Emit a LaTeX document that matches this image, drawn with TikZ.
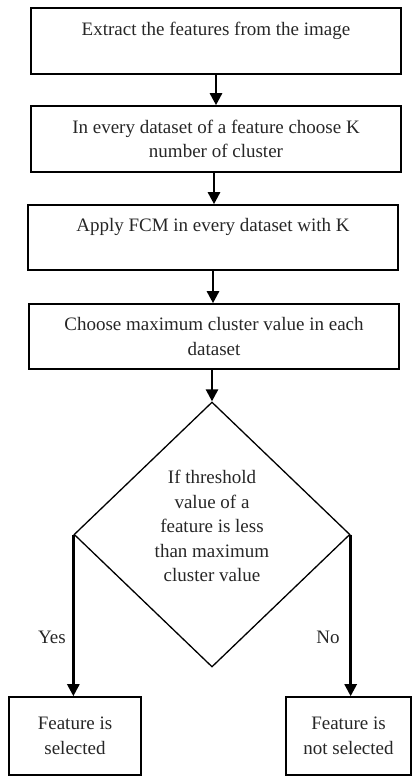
\documentclass[tikz,border=0pt]{standalone}
\usepackage{fontspec}
\setmainfont{Liberation Serif}
\usetikzlibrary{arrows.meta,shapes.geometric}
\begin{document}
\begin{tikzpicture}[x=1pt,y=-1pt,
  every node/.style={font=\fontsize{19}{24.5}\selectfont, text=black!85},
  procbox/.style={draw, line width=1.6pt, align=center, inner sep=0pt},
  flow/.style={line width=2.6pt, -{Triangle[length=12pt,width=12pt]}},
  decision/.style={draw, diamond, line width=1.3pt, inner sep=0pt, minimum width=276pt, minimum height=265pt},
  tag/.style={inner sep=0pt}]
\useasboundingbox (0,0) rectangle (412,776);

% process steps
\node[procbox, minimum width=370pt, minimum height=66pt] (b1) at (216,41)
  {Extract the features from the image\\ \mbox{}};
\node[procbox, minimum width=370pt, minimum height=66pt] (b2) at (216,139)
  {In every dataset of a feature choose K\\ number of cluster};
\node[procbox, minimum width=370pt, minimum height=65pt] (b3) at (213,237.5)
  {Apply FCM in every dataset with K\\ \mbox{}};
\node[procbox, minimum width=370pt, minimum height=65pt] (b4) at (214,336.5)
  {Choose maximum cluster value in each\\ dataset};

% decision
\node[decision] (d) at (212,534.5) {};
\node[align=center, inner sep=0pt] (dtext) at (212,526)
  {If threshold\\ value of a\\ feature is less\\ than maximum\\ cluster value};

% outcomes
\node[procbox, minimum width=132pt, minimum height=78pt] (yes) at (75,736)
  {Feature is\\ selected};
\node[procbox, minimum width=125pt, minimum height=78pt] (no) at (348.5,736)
  {Feature is\\ not selected};

% connectors
\draw[flow] (b1.south) -- (b1.south |- b2.north);
\draw[flow] (b2.south) ++(-2,0) coordinate (b2s) -- (b2s |- b3.north);
\draw[flow] (b3.south) -- (b3.south |- b4.north);
\draw[flow] (d.north |- b4.south) -- (d.north);
\draw[flow] (d.west) -- (d.west |- yes.north);
\draw[flow] (d.east) -- (d.east |- no.north);

% branch labels
\node[tag] (ly) at (52,637) {Yes};
\node[tag] (ln) at (328,637) {No};
\end{tikzpicture}
\end{document}
